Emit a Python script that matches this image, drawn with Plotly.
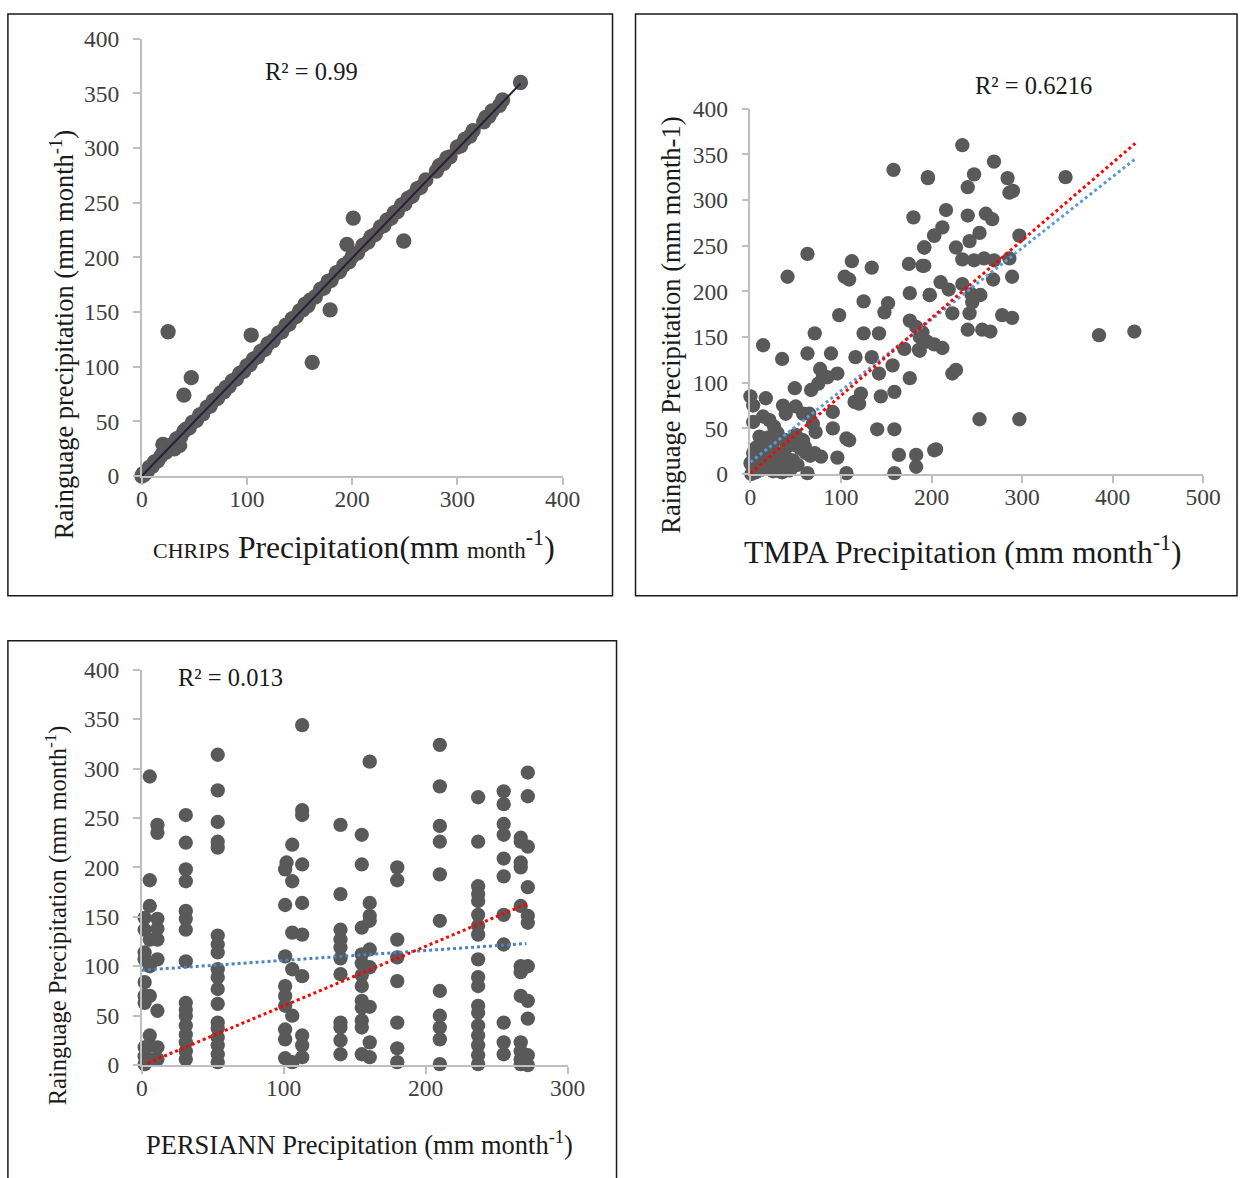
import plotly.graph_objects as go

W, H = 1256, 1178

# ---------------- Panel 1: CHIRPS ----------------
chirps_x = [0, 1, 2, 3, 5, 7, 10, 12, 15, 18, 20, 23, 27, 30, 33, 37, 40, 42, 45, 48, 52, 55, 58, 62, 65, 68,
            72, 75, 78, 80, 83, 86, 90, 93, 97, 100, 103, 106, 110, 113, 117, 120, 125, 130, 133, 137, 140,
            143, 147, 150, 153, 155, 158, 160, 165, 170, 173, 177, 180, 185, 188, 192, 197, 200, 205, 210,
            215, 218, 222, 227, 230, 233, 237, 240, 243, 247, 250, 253, 257, 262, 265, 270, 280, 283, 287,
            290, 293, 300, 303, 307, 312, 315, 325, 327, 330, 333, 340, 343, 360,
            25, 40, 47, 20, 31, 36, 104, 162, 179, 195, 201, 249]
chirps_y = [0, 2, 1, 3, 4, 8, 9, 13, 14, 18, 21, 22, 28, 29, 34, 36, 41, 43, 44, 49, 51, 56, 57, 63, 64, 69,
            71, 76, 77, 81, 82, 87, 89, 94, 96, 101, 102, 107, 109, 114, 116, 121, 124, 131, 132, 138, 139,
            144, 146, 151, 152, 157, 156, 161, 164, 171, 172, 178, 179, 186, 187, 193, 196, 201, 204, 211,
            214, 219, 221, 228, 229, 234, 236, 241, 242, 248, 249, 254, 256, 263, 264, 271, 279, 284, 286,
            291, 292, 301, 302, 308, 311, 316, 324, 328, 329, 334, 339, 344, 360,
            132, 74, 90, 29, 25, 28, 129, 104, 152, 212, 236, 215]
chirps_fit_x = [0, 360]
chirps_fit_y = [0, 359]

# ---------------- Panel 2: TMPA ----------------
tmpa_x = [158, 196, 63, 41, 112, 134, 104, 109, 180, 203, 192, 175, 190, 176, 198, 125, 152, 148, 98, 71,
          125, 142, 14, 63, 89, 35, 116, 134, 176, 183, 170, 186, 157, 77, 80, 75, 85, 96, 67, 49, 142, 176,
          159, 144, 122, 115, 120, 0, 17, 36, 39, 3, 91, 50, 58, 65, 14, 21, 3, 26, 69, 72, 91, 140, 159,
          106, 109, 50, 58, 39, 10, 17, 25, 3, 10, 0, 28, 39, 47, 61, 71, 78, 96, 164, 183, 183, 203, 63,
          106, 159, 3, 25, 43, 10, 36, 5, 8, 12, 15, 20, 22, 30, 33, 45, 2, 6, 18, 28, 32, 40, 52, 55, 1,
          4, 9, 13, 24, 35, 42, 48, 30, 20, 60, 66,
          234, 269, 196, 247, 240, 284, 348, 286, 290, 216, 240, 260, 267, 212, 203, 253, 242, 297, 192, 192,
          227, 234, 247, 258, 269, 286, 268, 289, 210, 219, 198, 234, 244, 254, 245, 223, 242, 278, 289, 240,
          256, 265, 187, 195, 203, 212, 190, 187, 385, 424, 223, 227, 253, 297, 205]
tmpa_y = [333, 325, 241, 216, 233, 226, 216, 213, 281, 261, 248, 230, 228, 198, 196, 189, 187, 177, 174, 154,
          154, 154, 141, 132, 132, 126, 128, 128, 168, 161, 137, 136, 119, 115, 106, 99, 106, 110, 92, 94, 110,
          105, 90, 85, 88, 79, 77, 85, 83, 75, 66, 75, 68, 74, 66, 66, 63, 59, 57, 52, 55, 46, 50, 49, 49,
          39, 37, 43, 37, 37, 41, 37, 34, 23, 19, 12, 23, 19, 15, 23, 23, 19, 18, 21, 21, 8, 26, 1,
          1, 1, 4, 3, 4, 12, 12, 28, 30, 22, 26, 10, 16, 8, 20, 6, 14, 2, 6, 9, 3, 30, 10, 28, 0,
          18, 26, 5, 12, 2, 16, 32, 45, 40, 30, 20,
          360, 342, 324, 328, 314, 324, 325, 308, 310, 289, 283, 285, 279, 270, 261, 264, 255, 261, 248, 228,
          248, 235, 234, 236, 234, 236, 213, 216, 210, 202, 196, 208, 197, 196, 188, 176, 176, 174, 171, 158,
          158, 156, 150, 145, 142, 138, 155, 135, 152, 156, 110, 114, 60, 60, 27]
tmpa_fit_red_x = [0, 425]
tmpa_fit_red_y = [1, 362]
tmpa_fit_blue_x = [0, 425]
tmpa_fit_blue_y = [13, 345]

# ---------------- Panel 3: PERSIANN ----------------
pers_x = ([5.6, 5.6, 5.6, 2, 2, 5.6, 11, 11, 11, 11, 11, 11, 11, 2, 2, 5.6, 2, 2, 5.6, 2, 5.6, 5.6, 2, 2, 5.6,
           11, 11, 2]
          + [31] * 16
          + [53.5] * 18
          + [102, 101, 106, 106, 101, 106, 101, 106, 101, 101, 101, 106, 101, 101, 101, 106]
          + [113] * 10
          + [140] * 11
          + [155] * 12
          + [160.6] * 9
          + [180] * 8
          + [210] * 11
          + [237] * 18
          + [255] * 11
          + [267] * 12
          + [272] * 11)
pers_y = ([292, 187, 161, 149, 137, 127, 243, 235, 148, 138, 127, 107, 55, 114, 107, 100, 84, 70, 70, 63, 30, 20,
           18, 9, 6, 18, 6, 1]
          + [253, 225, 198, 186, 156, 148, 137, 105, 63, 56, 50, 40, 31, 23, 14, 6]
          + [314, 278, 246, 226, 220, 131, 122, 114, 97, 89, 77, 62, 43, 37, 28, 20, 11, 3]
          + [205, 198, 223, 186, 162, 134, 110, 97, 80, 70, 60, 50, 36, 26, 7, 3]
          + [344, 258, 253, 203, 164, 132, 90, 30, 20, 8]
          + [243, 173, 137, 127, 119, 92, 43, 38, 25, 11, 108]
          + [233, 203, 139, 112, 103, 91, 80, 65, 58, 45, 38, 11]
          + [307, 164, 151, 146, 117, 99, 59, 23, 8]
          + [200, 187, 127, 109, 85, 43, 17, 3]
          + [324, 282, 242, 226, 193, 146, 75, 50, 38, 26, 1]
          + [271, 226, 181, 173, 166, 152, 141, 132, 107, 89, 80, 60, 53, 40, 30, 20, 10, 1]
          + [277, 264, 244, 233, 209, 191, 152, 122, 43, 23, 11]
          + [230, 226, 205, 200, 161, 100, 94, 70, 23, 14, 6, 1]
          + [296, 272, 221, 180, 151, 144, 100, 65, 47, 10, 0])
pers_fit_red_x = [4, 271]
pers_fit_red_y = [2, 163]
pers_fit_blue_x = [0, 271]
pers_fit_blue_y = [96, 123]

FONT = "Liberation Serif"
TICK_COLOR = "#404040"
TEXT_COLOR = "#1a1a1a"
AXIS_COLOR = "#bfbfbf"
MARKER_COLOR = "#595959"

# mapping from target-picture pixels to figure paper coordinates
SX, OX = 0.9815, 6.1
SY, OY = 0.9795, 12.2
K = 1.0 / SY  # size compensation


def xd(p):
    return min(max(((p - OX) / SX) / W, 0.0008), 0.9992)


def yd(p):
    return min(max(1 - ((p - OY) / SY) / H, -0.2), 0.9992)


def fs(v):
    return round(v * K, 1)


fig = go.Figure()

# Panel 1
fig.add_trace(go.Scatter(x=chirps_x, y=chirps_y, mode="markers", xaxis="x", yaxis="y",
                         marker=dict(color=MARKER_COLOR, size=fs(15)), cliponaxis=False, showlegend=False))
fig.add_trace(go.Scatter(x=chirps_fit_x, y=chirps_fit_y, mode="lines", xaxis="x", yaxis="y",
                         line=dict(color="#2a1f3d", width=2), cliponaxis=False, showlegend=False))

# Panel 2
fig.add_trace(go.Scatter(x=tmpa_x, y=tmpa_y, mode="markers", xaxis="x2", yaxis="y2",
                         marker=dict(color=MARKER_COLOR, size=fs(14)), cliponaxis=False, showlegend=False))
fig.add_trace(go.Scatter(x=tmpa_fit_blue_x, y=tmpa_fit_blue_y, mode="lines", xaxis="x2", yaxis="y2",
                         line=dict(color="#5b9bd5", width=3, dash="dot"), cliponaxis=False, showlegend=False))
fig.add_trace(go.Scatter(x=tmpa_fit_red_x, y=tmpa_fit_red_y, mode="lines", xaxis="x2", yaxis="y2",
                         line=dict(color="#ff0000", width=3, dash="dot"), cliponaxis=False, showlegend=False))

# Panel 3
fig.add_trace(go.Scatter(x=pers_x, y=pers_y, mode="markers", xaxis="x3", yaxis="y3",
                         marker=dict(color=MARKER_COLOR, size=fs(14)), cliponaxis=False, showlegend=False))
fig.add_trace(go.Scatter(x=pers_fit_blue_x, y=pers_fit_blue_y, mode="lines", xaxis="x3", yaxis="y3",
                         line=dict(color="#4f81bd", width=3, dash="dot"), cliponaxis=False, showlegend=False))
fig.add_trace(go.Scatter(x=pers_fit_red_x, y=pers_fit_red_y, mode="lines", xaxis="x3", yaxis="y3",
                         line=dict(color="#ff0000", width=3, dash="dot"), cliponaxis=False, showlegend=False))

axis_common = dict(showgrid=False, zeroline=False, showline=True, linecolor=AXIS_COLOR, linewidth=1.5,
                   ticks="outside", ticklen=7, tickcolor=AXIS_COLOR, tickwidth=1.5,
                   tickfont=dict(family=FONT, size=fs(23), color=TICK_COLOR), fixedrange=True)


def xaxis(l, r, rng, dtick, anchor):
    return dict(domain=[xd(l), xd(r)], range=rng, dtick=dtick, tick0=0, anchor=anchor,
                ticklabelstandoff=-6, **axis_common)


def yaxis(b, t, rng, dtick, anchor):
    return dict(domain=[yd(b), yd(t)], range=rng, dtick=dtick, tick0=0, anchor=anchor,
                ticklabelstandoff=9, **axis_common)


fig.update_layout(
    width=W, height=H, margin=dict(l=0, r=0, t=0, b=0),
    paper_bgcolor="white", plot_bgcolor="white",
    xaxis=xaxis(142, 563, [0, 400], 100, "y"),
    yaxis=yaxis(476, 38, [0, 400], 50, "x"),
    xaxis2=xaxis(751, 1204, [0, 500], 100, "y2"),
    yaxis2=yaxis(474, 108, [0, 400], 50, "x2"),
    xaxis3=xaxis(142, 568, [0, 300], 100, "y3"),
    yaxis3=yaxis(1066, 670, [0, 400], 50, "x3"),
)

# Panel borders (the third panel is cut off at the bottom of the picture)
for (x0, y0, x1, y1) in [(8, 8, 613, 596), (636, 8, 1253, 596), (8, 641, 617, 1300)]:
    fig.add_shape(type="rect", xref="paper", yref="paper", x0=xd(x0), x1=xd(x1), y0=yd(y1), y1=yd(y0),
                  line=dict(color="#1a1a1a", width=1.5), fillcolor="rgba(0,0,0,0)")


def ann(text, px, py, size, angle=0, color=TEXT_COLOR):
    fig.add_annotation(text=text, x=xd(px), y=yd(py), xref="paper", yref="paper", showarrow=False,
                       xanchor="center", yanchor="middle", textangle=angle,
                       font=dict(family=FONT, size=fs(size), color=color))


# R² labels
ann("R² = 0.99", 312, 71, 24)
ann("R² = 0.6216", 1034, 85, 24)
ann("R² = 0.013", 231, 678, 24)

# Axis titles
ann('<span style="font-size:22px">CHRIPS</span> Precipitation(mm <span style="font-size:23px">month</span><sup>-1</sup>)',
    354, 545, 31)
ann("Rainguage precipitation (mm month<sup>-1</sup>)", 62, 334, 26, angle=-90)
ann("Rainguage Precipitation (mm month-1)", 672, 325, 26, angle=-90)
ann("TMPA Precipitation (mm month<sup>-1</sup>)", 964, 550, 31)
ann("Rainguage Precipitation (mm month<sup>-1</sup>)", 56, 916, 24, angle=-90)
ann("PERSIANN Precipitation (mm month<sup>-1</sup>)", 360, 1144, 26)

fig.write_html("out.html")
